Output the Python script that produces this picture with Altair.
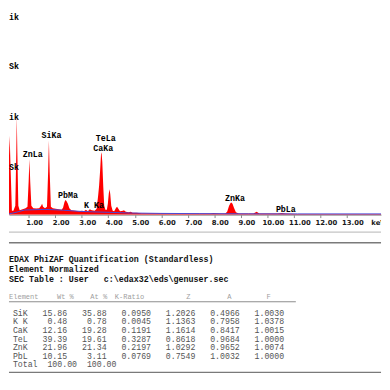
import altair as alt
import pandas as pd

# ---------------- spectrum (energy keV, counts) ----------------
spec_kev = [0.107, 0.198, 0.246, 0.279, 0.312, 0.364, 0.419, 0.492, 0.529, 0.547, 0.569, 0.606, 0.657, 0.768, 0.878,
            0.951, 0.995, 1.025, 1.054, 1.098, 1.171, 1.282, 1.392, 1.465, 1.502, 1.539, 1.612,
            1.686, 1.730, 1.759, 1.788, 1.833, 1.906, 2.016, 2.126, 2.236,
            2.292, 2.347, 2.383, 2.420, 2.475, 2.530, 2.604, 2.751, 2.897, 3.008, 3.081, 3.155, 3.228, 3.301, 3.375, 3.485,
            3.559, 3.614, 3.650, 3.687, 3.724, 3.742, 3.772, 3.808, 3.845, 3.889,
            3.944, 3.981, 4.018, 4.047, 4.073, 4.109, 4.164, 4.220, 4.293, 4.330, 4.366, 4.440, 4.550, 4.587, 4.660, 4.770, 4.844, 4.917,
            5.064, 5.248, 5.615, 5.982, 6.350, 7.084, 7.819, 7.965, 8.076, 8.186, 8.406,
            8.480, 8.553, 8.608, 8.637, 8.682, 8.737, 8.810, 8.920, 9.288, 9.471, 9.592, 9.691, 9.875, 10.389, 10.547, 10.683,
            11.124, 12.225, 13.327, 14.429]
spec_cnt = [5, 30, 540, 810, 490, 40, 40, 90, 640, 1010, 640, 90, 45, 55, 65,
            80, 340, 570, 340, 90, 65, 63, 65, 90, 110, 80, 65,
            80, 440, 760, 440, 80, 65, 60, 55, 50,
            70, 130, 150, 140, 110, 65, 45, 40, 35, 40, 35, 50, 35, 55, 45, 40,
            60, 190, 290, 440, 620, 640, 540, 290, 90, 50,
            50, 110, 220, 260, 210, 90, 40, 35, 70, 80, 65, 35, 40, 45, 30, 25, 30, 20,
            20, 15, 15, 13, 10, 10, 10, 17, 15, 10, 10,
            30, 90, 120, 125, 110, 70, 25, 10, 10, 12, 30, 12, 10, 10, 17, 10,
            7, 7, 7, 5]

bg_kev = [0.107, 0.474, 0.841, 1.208, 1.575, 1.943, 2.310, 2.934, 3.412, 4.036, 4.880, 5.982, 7.451, 9.288, 11.124, 14.429]
bg_cnt = [0, 20, 47, 50, 53, 50, 45, 33, 28, 23, 16, 12, 10, 8, 7, 7]

peak_names = ["ZnLa", "SiKa", "PbMa", "K Ka", "TeLa", "CaKa", "ZnKa", "PbLa"]
peak_kev = [1.146, 1.858, 2.483, 3.459, 3.900, 3.805, 8.773, 10.694]
peak_cnt = [623, 813, 197, 97, 783, 683, 173, 57]

ylabel_cnt = [2010, 1500, 980, 470]
ylabel_txt = ["ik", "Sk", "ik", "Sk"]
xtick_kev = list(range(1, 14))
unit_label = ["keV"]

# ---------------- quantification table ----------------
title_lines = ["EDAX PhiZAF Quantification (Standardless)",
               "Element Normalized",
               "SEC Table : User   c:\\edax32\\eds\\genuser.sec"]
header_cols = ["Element", "Wt %", "At %", "K-Ratio", "Z", "A", "F"]
elements = ["SiK", "K K", "CaK", "TeL", "ZnK", "PbL"]
wt_pct = [15.86, 0.48, 12.16, 39.39, 21.96, 10.15]
at_pct = [35.88, 0.78, 19.28, 19.61, 21.34, 3.11]
k_ratio = [0.0950, 0.0045, 0.1191, 0.3287, 0.2197, 0.0769]
z_fac = [1.2026, 1.1363, 1.1614, 0.8618, 1.0292, 0.7549]
a_fac = [0.4966, 0.7958, 0.8417, 0.9684, 0.9652, 1.0032]
f_fac = [1.0030, 1.0378, 1.0015, 1.0000, 1.0074, 1.0000]
total_wt = 100.00
total_at = 100.00

NB = "\u00a0"
def nb(s):
    return s.replace(" ", NB)

# ---------------- layout ----------------
W = H = 382
xs = alt.Scale(domain=[0.2534, 14.282], nice=False, zero=False)
ys = alt.Scale(domain=[-1760, 2060], nice=False, zero=False)

xaxis = alt.Axis(values=xtick_kev, labels=False, tickSize=3,
                 tickColor="#888888", domainColor="#888888", domainWidth=1,
                 offset=-175, title=None, grid=False)

def X():
    return alt.X("keV:Q", scale=xs, axis=xaxis)

def Y():
    return alt.Y("counts:Q", scale=ys, axis=None)

spec_df = pd.DataFrame({"keV": spec_kev, "counts": spec_cnt})
bg_df = pd.DataFrame({"keV": bg_kev, "counts": bg_cnt})
peak_df = pd.DataFrame({"keV": peak_kev, "counts": peak_cnt, "name": [nb(n) for n in peak_names]})
ylab_df = pd.DataFrame({"counts": ylabel_cnt, "t": ylabel_txt})
tick_df = pd.DataFrame({"keV": xtick_kev, "counts": [-90] * len(xtick_kev),
                        "t": [f"{v:.2f}" for v in xtick_kev]})
unit_df = pd.DataFrame({"keV": [13.914], "counts": [-90], "t": unit_label})

area = alt.Chart(spec_df).mark_area(color="#ff0000", clip=True, interpolate="linear").encode(x=X(), y=Y())
bgline = alt.Chart(bg_df).mark_line(color="#4848d8", strokeWidth=1, clip=True).encode(x=X(), y=Y())
peaks = alt.Chart(peak_df).mark_text(font="Liberation Mono", fontWeight="bold", fontSize=8.5,
                                     color="#000000").encode(x=X(), y=Y(), text="name:N")
ylabs = alt.Chart(ylab_df).mark_text(font="Liberation Mono", fontWeight="bold", fontSize=8.5, align="left",
                                     dy=-2, color="#000000").encode(x=alt.value(0), y=Y(), text="t:N")
ticklabs = alt.Chart(tick_df).mark_text(font="DejaVu Sans", fontWeight="bold", fontSize=7, align="center",
                                        dx=6, color="#1a1a1a").encode(x=X(), y=Y(), text="t:N")
unit = alt.Chart(unit_df).mark_text(font="DejaVu Sans", fontWeight="bold", fontSize=7, align="left",
                                    color="#1a1a1a", clip=True).encode(x=X(), y=Y(), text="t:N")

# table in report-line units: row 0 = first element row
ROW0, ROWPX = 315.0, 8.8
def line(ypx):
    return (ypx - ROW0) / ROWPX
rs = alt.Scale(domain=[line(8), line(390)], reverse=True, nice=False, zero=False)
def R():
    return alt.Y("r:Q", scale=rs, axis=None)

rows_txt = []
for el, w, a, k, z, aa, f in zip(elements, wt_pct, at_pct, k_ratio, z_fac, a_fac, f_fac):
    rows_txt.append(f"{el:>6}{w:8.2f}{a:8.2f}{k:9.4f}{z:9.4f}{aa:9.4f}{f:9.4f}")
rows_txt.append(f"{'Total':>6}{total_wt:8.2f}{total_at:8.2f}")
rows_df = pd.DataFrame({"r": list(range(len(rows_txt))), "t": [nb(s) for s in rows_txt]})

titles_df = pd.DataFrame({"r": [line(260), line(270), line(280)], "t": [nb(s) for s in title_lines]})

# header columns: left edge of each heading (plot px)
header_x = [0, 49, 83, 108, 181, 223, 263]
header_layers = [
    alt.Chart(pd.DataFrame({"r": [line(299)], "t": [nb(h)]})).mark_text(
        font="Liberation Mono", fontSize=7.2, align="left", color="#a0a0a0"
    ).encode(x=alt.value(hx), y=R(), text="t:N")
    for h, hx in zip(header_cols, header_x)
]

sep_df = pd.DataFrame({"r": [line(232), line(243), line(376)], "c": ["#c4c4c4", "#7a7a7a", "#7a7a7a"]})

seps = alt.Chart(sep_df).mark_rule(strokeWidth=1.5).encode(y=R(), color=alt.Color("c:N", scale=None))
underline = alt.Chart(pd.DataFrame({"r": [line(303.5)]})).mark_rule(color="#8a8a8a", strokeWidth=1).encode(
    y=R(), x=alt.value(0), x2=alt.value(293))
titles = alt.Chart(titles_df).mark_text(font="Liberation Mono", fontWeight="bold", fontSize=8.5, align="left",
                                        color="#111111").encode(x=alt.value(0), y=R(), text="t:N")
rows = alt.Chart(rows_df).mark_text(font="Liberation Mono", fontSize=8.4, align="left",
                                    color="#555555").encode(x=alt.value(4), y=R(), text="t:N")

chart = alt.layer(area, bgline, peaks, ylabs, ticklabs, unit, seps, underline, titles, *header_layers, rows).resolve_scale(
    y="independent"
).properties(
    width=W, height=H, padding=0,
    autosize=alt.AutoSizeParams(type="fit", contains="padding"),
).configure_view(stroke=None)

chart.save("out.html", embed_options={"renderer": "svg", "actions": False})
